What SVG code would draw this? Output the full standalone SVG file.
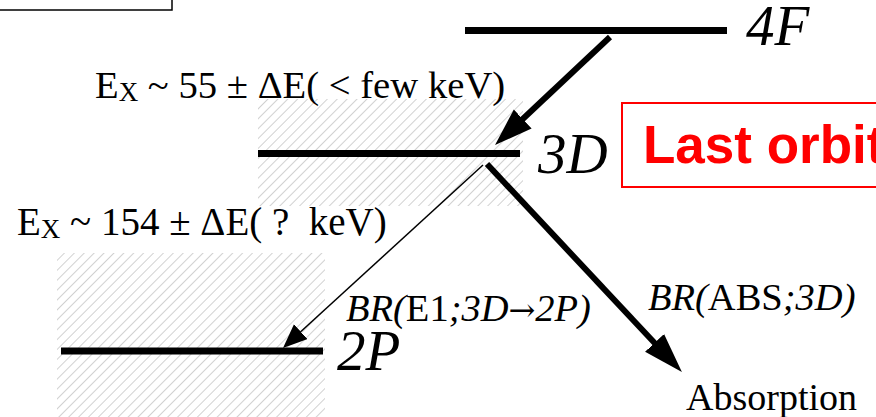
<svg xmlns="http://www.w3.org/2000/svg" width="876" height="417" viewBox="0 0 876 417">
<defs>
<pattern id="hatch" patternUnits="userSpaceOnUse" width="7" height="7" patternTransform="rotate(45)">
<line x1="0" y1="0" x2="0" y2="7" stroke="#aaaaaa" stroke-width="1.1"/>
</pattern>
<marker id="headBig" markerUnits="userSpaceOnUse" markerWidth="40" markerHeight="28" refX="10" refY="13" orient="auto">
<path d="M0,0 L40,13 L0,26 z" fill="#000"/>
</marker>
<marker id="headBig2" markerUnits="userSpaceOnUse" markerWidth="40" markerHeight="28" refX="8" refY="13" orient="auto">
<path d="M0,0 L38,13 L0,26 z" fill="#000"/>
</marker>
<marker id="headSmall" markerUnits="userSpaceOnUse" markerWidth="26" markerHeight="22" refX="6" refY="10" orient="auto">
<path d="M0,0 L24,10 L0,20 z" fill="#000"/>
</marker>
</defs>
<style>
.lvl{stroke:#000;stroke-width:7;fill:none}
.serif{font-family:"Liberation Serif","Times New Roman",serif;fill:#000}
.it{font-style:italic}
.big{font-size:57px}
.mid{font-size:38.5px}
.arr{font-family:"DejaVu Serif",serif;font-style:normal;font-size:32px}
.hatch{fill:url(#hatch);stroke:none}
</style>
<rect width="876" height="417" fill="#fff"/>
<g id="topbox"><rect x="-2" y="-2" width="174" height="12" fill="none" stroke="#000" stroke-width="1.5"/></g>
<g id="hatching">
<rect class="hatch" x="258" y="99" width="265" height="107"/>
<rect class="hatch" x="57" y="253" width="268" height="164"/>
</g>
<g id="level4F">
<line class="lvl" x1="465" y1="30.5" x2="727" y2="30.5"/>
<text class="serif it big" x="746" y="45">4F</text>
</g>
<g id="level3D">
<line class="lvl" x1="258" y1="153.5" x2="520" y2="153.5"/>
<text class="serif it big" x="538" y="173">3D</text>
</g>
<g id="level2P">
<line class="lvl" x1="61" y1="351" x2="323" y2="351"/>
<text class="serif it big" x="337" y="370">2P</text>
</g>
<g id="absorption">
<text class="serif" font-size="38" x="686" y="410">Absorption</text>
</g>
<g id="lastorbit">
<rect x="622" y="103" width="270" height="84" fill="none" stroke="#ff0000" stroke-width="2"/>
<text x="643" y="163" font-family="'Liberation Sans',Arial,sans-serif" font-weight="bold" font-size="53" fill="#ff0000">Last orbit</text>
</g>
<g id="labels">
<text class="serif" font-size="38.7" x="95" y="98">E<tspan font-size="27" dy="3">X</tspan><tspan dy="-3"> ~ 55 ± ΔE( &lt; few keV)</tspan></text>
<text class="serif" font-size="39" x="17" y="235">E<tspan font-size="27" dy="3">X</tspan><tspan dy="-3"> ~ 154 ± ΔE( ?&#160; keV)</tspan></text>
<text class="serif mid" x="346" y="321"><tspan class="it">BR(</tspan>E1<tspan class="it">;3D</tspan><tspan class="arr">→</tspan><tspan class="it">2P)</tspan></text>
<text class="serif mid" x="648" y="310"><tspan class="it">BR(</tspan>ABS<tspan class="it">;3D)</tspan></text>
</g>
<g id="connectors" stroke="#000" fill="none">
<line x1="610" y1="37" x2="516.9" y2="124.5" stroke-width="6" marker-end="url(#headBig2)"/>
<line x1="487" y1="164" x2="661.4" y2="350.2" stroke-width="6" marker-end="url(#headBig)"/>
<line x1="483" y1="165" x2="296.3" y2="335.8" stroke-width="1.5" marker-end="url(#headSmall)"/>
</g>
</svg>
